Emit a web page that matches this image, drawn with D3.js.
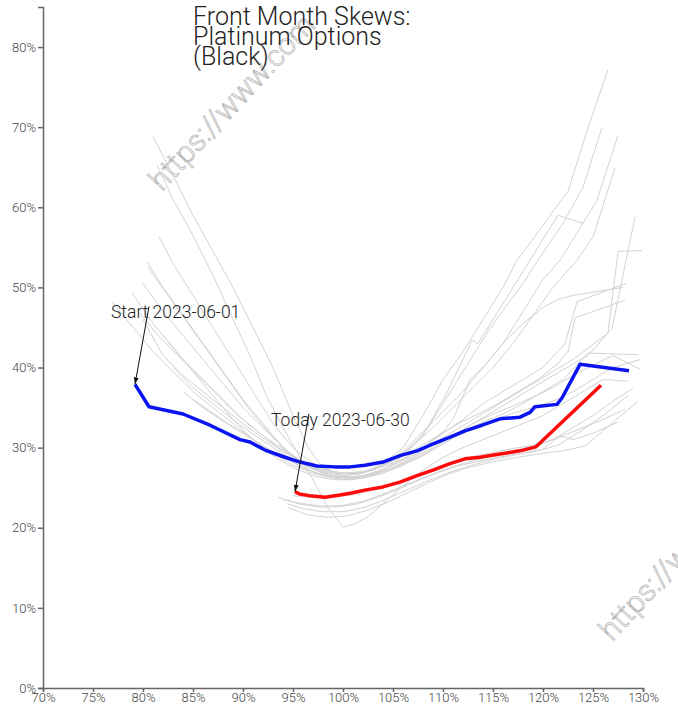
<!DOCTYPE html>
<html><head><meta charset="utf-8">
<script src="https://cdn.jsdelivr.net/npm/d3@7"></script>
<style>
body{margin:0;background:#fff}
text{font-family:Roboto,"Noto Sans",sans-serif}
</style>
</head><body>
<svg id="chart" width="678" height="719"></svg>
<script>
const titleLines = ["Front Month Skews:", "Platinum Options", "(Black)"];
const startLabel = "Start 2023-06-01";
const todayLabel = "Today 2023-06-30";
const watermark = "https://www.com";
const xTicks = [70,75,80,85,90,95,100,105,110,115,120,125,130];
const yTicks = [0,10,20,30,40,50,60,70,80];

// start skew (blue) : [moneyness %, implied vol %]
const startSkew = [[79.2,37.9],[80.6,35.1],[84.0,34.2],[86.7,32.8],[89.7,31.0],[90.7,30.7],[92.2,29.7],[94.2,28.8],[95.7,28.2],[97.4,27.7],[99.2,27.6],[100.7,27.6],[102.2,27.8],[104.0,28.2],[105.7,29.0],[107.4,29.6],[108.7,30.3],[110.7,31.3],[112.2,32.1],[113.9,32.8],[115.7,33.6],[117.7,33.8],[118.7,34.4],[119.2,35.1],[121.4,35.4],[121.9,36.2],[123.7,40.4],[128.6,39.6]];
// today skew (red)
const todaySkew = [[95.2,24.5],[95.7,24.2],[96.7,24.0],[98.2,23.8],[99.7,24.1],[100.7,24.3],[102.2,24.7],[104.0,25.1],[105.7,25.7],[107.4,26.5],[109.0,27.2],[110.7,28.0],[112.2,28.6],[113.7,28.8],[115.7,29.2],[117.7,29.6],[119.3,30.1],[125.8,37.8]];

// intermediate days (gray)
const grayDates = ["2023-06-02","2023-06-05","2023-06-06","2023-06-07","2023-06-08","2023-06-09","2023-06-12","2023-06-13","2023-06-14","2023-06-15","2023-06-16","2023-06-20","2023-06-21","2023-06-22","2023-06-23","2023-06-26","2023-06-27","2023-06-28","2023-06-29"];
const graySkews = [
 [[81,68.8],[83,64],[85,59],[87,54.5],[89,50],[91,45],[93,40],[95,34],[96.5,30],[98,27.5],[100,26.5],[102,26.8],[104,28],[106,30],[108,34],[110,38.5],[112,42],[114,46],[116,50],[117.4,53.4],[119,56],[121,59.5],[122.5,62],[124.5,69.9],[126.5,77.2]],
 [[81.4,65.3],[83,61],[85,56.5],[87,51.5],[89,46],[90.7,41.5],[92.4,36.3],[94,32.5],[95.7,28.8],[97,26],[98.5,22.5],[100,20.1],[101,20.4],[102.4,21.3],[104,23],[106,25.2],[108,27.2],[110,28.8],[112,30],[114,31],[116,32],[118,33],[120,34],[122,35.5],[124,37],[126,38.5],[128.5,38.3]],
 [[80.4,53.2],[82,50],[84,46.5],[86,43],[88,39.5],[90,36],[92,33],[94,30],[96,28],[98,27],[100,26.5],[102,26.8],[104,27.8],[106,29.5],[108,32],[110,34.5],[112,37],[114,40],[116,43],[118,47],[120,51],[121.7,53.4],[123.5,57],[125.4,60.9],[127.5,69]],
 [[81.6,56.3],[83,53],[85,49],[87,45],[89,41],[91,37],[93,33],[95,30],[97,28],[99,27],[101,26.7],[103,27.2],[105,28.4],[107,30.2],[109,32.5],[111,35],[113,37.5],[115,40],[117,43],[119,46.5],[121,50],[123.4,53.4],[125,56.3],[127.2,64.9]],
 [[78.9,49.3],[81,45.5],[83,42.5],[85,39.5],[87,36.5],[89,33.5],[91,31],[93,29],[95,27.5],[97,26.5],[99,26],[101,26],[103,26.5],[105,27.5],[107,28.8],[109,30.5],[111,32],[113,33.5],[115,35],[117,36.5],[119,38],[121,39.5],[123,41],[126.5,44.3],[127.5,54.5],[129.9,54.6]],
 [[76.9,48.2],[79,45],[81,42],[83,39.5],[85,37],[87,35],[89,33],[91,31],[93,29.3],[95,27.8],[97,26.8],[99,26.2],[101,26.2],[103,26.8],[105,27.8],[107,29],[109,30.3],[111,31.5],[113,33],[115,34.5],[117,36],[119,37.5],[121,39],[124.5,41.5],[126.9,44.9],[129.2,58.8]],
 [[80,50.5],[82,47],[84,44],[86,41],[88,38],[90,35],[92,32.5],[94,30],[96,28],[98,26.8],[100,26.3],[102,26.5],[104,27.3],[106,28.5],[108,30],[110,31.8],[112,33.5],[114,35.5],[116,37],[118,38.5],[120,40],[122.2,43],[123.4,48.2],[128.3,50.5]],
 [[79.5,47],[81.5,44],[83.5,41.5],[85.5,39],[87.5,36.5],[89.5,34],[91.5,32],[93.5,30],[95.5,28.5],[97.5,27.3],[99.5,26.7],[101.5,26.8],[103.5,27.5],[105.5,28.6],[107.5,30],[109.5,31.5],[111.5,33],[113.5,34.2],[115.5,35.5],[117.5,37],[119.5,38.5],[121.5,40.5],[122.5,42],[123.2,46.2],[128.2,48.4]],
 [[80.5,52.5],[82.5,49],[84.5,45.5],[86.5,42],[88.5,38.5],[90.5,35],[92.5,32],[94.5,29.5],[96.5,27.6],[98.5,26.6],[100.5,26.2],[102.5,26.5],[104.5,27.5],[106.5,29.5],[108.5,32.5],[110.5,36.5],[112.5,40.5],[114.5,44.5],[116.5,48],[118,50.5],[119.5,53.4],[122,58],[124,62.5],[125.9,70]],
 [[94,23.5],[96,23],[98,22.7],[100,22.8],[102,23.3],[104,24.2],[106,25.2],[108,26.2],[110,27.2],[112,28],[114,28.7],[116,29.3],[118,29.9],[120,30.5],[122,31.5],[124,32.5],[126,33.5],[128.2,34.8]],
 [[94.4,23.0],[96,22.4],[98,22.0],[100,22.0],[102,22.5],[104,23.4],[106,24.5],[108,25.6],[110,26.6],[112,27.5],[114,28.2],[116,28.8],[118,29.3],[120,29.8],[121.7,31.5],[123,31],[125,31.8],[127.5,33.2]],
 [[94.5,22.5],[96.5,21.6],[98.5,21.3],[100.5,21.5],[102.5,22.2],[104.5,23.2],[106.5,24.4],[108.5,25.6],[110.5,26.7],[112.5,27.5],[114.5,28.1],[116.5,28.6],[118.5,29.0],[120.5,29.4],[122,29.6],[124.2,30.2],[129.5,35.8]],
 [[84,37],[86,35],[88,33.3],[90,31.8],[92,30.2],[94,28.8],[96,27.5],[98,26.5],[100,26],[102,26.2],[104,26.8],[106,27.8],[108,29],[110,30.5],[112,32],[114,33.2],[116,34.2],[118,35.5],[120,37],[122,38.5],[124.5,41.8],[129.5,41.6]],
 [[85,36],[87,34.3],[89,32.6],[91,31],[93,29.5],[95,28.2],[97,27],[99,26.3],[101,26.2],[103,26.6],[105,27.4],[107,28.5],[109,29.8],[111,31.2],[113,32.4],[115,33.4],[117,34.3],[119,35],[121,35.8],[123,37],[125,38.5],[127,40],[129.7,41]],
 [[80,46],[82,41.5],[84,39],[86,37],[88,35],[90,33],[92,31.2],[94,29.5],[96,28.2],[98,27.2],[100,26.8],[102,27],[104,27.6],[106,28.6],[108,30],[110,32],[111,33.5],[112.7,38.5],[114,40],[116,43],[118,45.5],[120,47.5],[121.5,48.5],[123,49],[125.5,49.5],[128,50]],
 [[82,44],[84,41],[86,38.5],[88,36],[90,33.5],[92,31.5],[94,29.8],[96,28.3],[98,27.3],[100,26.8],[102,27],[104,27.8],[106,29.3],[108,31.5],[110.4,36.9],[112.9,43.4],[113.5,43],[115.5,47],[117.5,51],[119.5,55],[121.5,59],[124,58]],
 [[83,40],[85,37.5],[87,35.5],[89,33.5],[91,31.7],[93,30],[95,28.5],[97,27.3],[99,26.5],[101,26.3],[103,26.7],[105,27.5],[107,28.7],[109,30],[111,31.5],[113,33],[115,34.2],[117,35.2],[119,36.3],[121,37.5],[123,39],[125,40.3],[127,41.5],[129.7,39.8]],
 [[95,24],[97,23.8],[99,23.8],[101,24.1],[103,24.7],[105,25.5],[107,26.4],[109,27.3],[111,28.2],[113,28.9],[115,29.4],[117,29.9],[119,30.3],[121,31],[123,32.5],[125,34],[127,35.8],[129,37.4]],
 [[93.5,23.8],[95.5,23.0],[97.5,22.6],[99.5,22.6],[101.5,23.0],[103.5,23.8],[105.5,24.8],[107.5,25.9],[109.5,26.9],[111.5,27.7],[113.5,28.3],[115.5,28.8],[117.5,29.2],[119.5,29.6],[121.5,30.3],[123.7,32],[126,34],[128.5,36.5]]
];

const svg = d3.select("#chart");
const x = d3.scaleLinear().domain([70,130]).range([43,643]);
const y = d3.scaleLinear().domain([0,85]).range([688,7]);
const line = d3.line().x(d => x(d[0])).y(d => y(d[1]));

// watermarks
svg.append("text").attr("transform","translate(162,192) rotate(-47)")
  .attr("font-size",30).attr("font-weight",300).attr("fill","none")
  .attr("stroke","#b8b8b8").attr("stroke-width",0.8).text(watermark);
svg.append("text").attr("transform","translate(612,642) rotate(-47)")
  .attr("font-size",30).attr("font-weight",300).attr("fill","none")
  .attr("stroke","#b8b8b8").attr("stroke-width",0.8).text(watermark);

// gray lines
svg.append("g").selectAll("path").data(graySkews).join("path")
  .attr("d", line).attr("fill","none").attr("stroke","#d2d2d2").attr("stroke-width",1);

svg.append("path").datum(startSkew).attr("d", line).attr("fill","none")
  .attr("stroke","#0a14f0").attr("stroke-width",3.5).attr("stroke-linejoin","round");
svg.append("path").datum(todaySkew).attr("d", line).attr("fill","none")
  .attr("stroke","#ff0a0a").attr("stroke-width",3.5).attr("stroke-linejoin","round");

// axes
const xAxis = svg.append("g").attr("transform","translate(0,688)")
  .call(d3.axisBottom(x).tickValues(xTicks).tickFormat(d => d + "%").tickSize(4).tickPadding(1));
const yAxis = svg.append("g").attr("transform","translate(43,0)")
  .call(d3.axisLeft(y).tickValues(yTicks).tickFormat(d => d + "%").tickSize(5).tickPadding(2));
[xAxis, yAxis].forEach(a => {
  a.selectAll("path,line").attr("stroke","#666").attr("stroke-width",1.5);
  a.selectAll("text").attr("font-size",13).attr("font-weight",300).attr("fill","#444")
   .attr("font-family","Roboto,'Noto Sans',sans-serif");
});

// title
const title = svg.append("text").attr("x",193).attr("y",25)
  .attr("font-size",25).attr("font-weight",300).attr("fill","#222");
titleLines.forEach((t,i) => title.append("tspan").attr("x",193).attr("y",25 + i*20).text(t));

// annotations
svg.append("defs").append("marker").attr("id","arr").attr("viewBox","0 0 10 10")
  .attr("refX",10).attr("refY",5).attr("markerWidth",7).attr("markerHeight",7)
  .attr("orient","auto").append("path").attr("d","M0,1.5L10,5L0,8.5Z").attr("fill","#111");
function annotate(pt, label){
  const tx = x(pt[0]), ty = y(pt[1]);
  svg.append("line").attr("x1",tx+14).attr("y1",ty-78).attr("x2",tx).attr("y2",ty)
    .attr("stroke","#111").attr("stroke-width",1).attr("marker-end","url(#arr)");
  svg.append("text").attr("x",tx-24).attr("y",ty-66).attr("font-size",17.5)
    .attr("font-weight",300).attr("fill","#222").text(label);
}
annotate(startSkew[0], startLabel);
annotate(todaySkew[0], todayLabel);
</script>
</body></html>
